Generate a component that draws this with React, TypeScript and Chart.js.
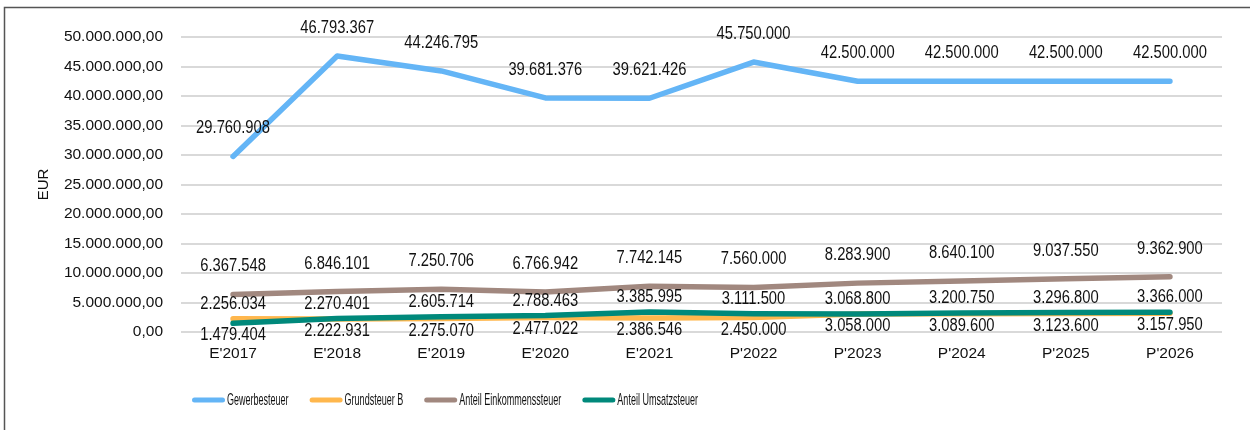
import React, { useEffect, useRef } from "react";
import { Chart, registerables } from "chart.js";

Chart.register(...registerables);

const categories = ["E'2017", "E'2018", "E'2019", "E'2020", "E'2021", "P'2022", "P'2023", "P'2024", "P'2025", "P'2026"];
const gewerbesteuer = [29760908, 46793367, 44246795, 39681376, 39621426, 45750000, 42500000, 42500000, 42500000, 42500000];
const grundsteuerB = [2256034, 2222931, 2275070, 2477022, 2386546, 2450000, 3058000, 3089600, 3123600, 3157950];
const anteilEinkommen = [6367548, 6846101, 7250706, 6766942, 7742145, 7560000, 8283900, 8640100, 9037550, 9362900];
const anteilUmsatz = [1479404, 2270401, 2605714, 2788463, 3385995, 3111500, 3068800, 3200750, 3296800, 3366000];
const seriesNames = ["Gewerbesteuer", "Grundsteuer B", "Anteil Einkommenssteuer", "Anteil Umsatzsteuer"];
const seriesColors = ["#64B5F6", "#FFB74D", "#A1887F", "#00897B"];

const FONT = "'Liberation Sans', Arial, sans-serif";

function groupThousands(n: number): string {
  const s = Math.round(Math.abs(n)).toString();
  return (n < 0 ? "-" : "") + s.replace(/\B(?=(\d{3})+(?!\d))/g, ".");
}
function fmtAxis(n: number): string {
  return groupThousands(n) + ",00";
}

const labelsPlugin = {
  id: "valueLabels",
  afterDatasetsDraw(chart: any) {
    const ctx = chart.ctx;
    ctx.save();
    ctx.font = `18px ${FONT}`;
    ctx.fillStyle = "#111";
    ctx.textAlign = "center";
    ctx.textBaseline = "middle";
    const sx = 0.82;
    const ds = chart.data.datasets;
    for (let d = 0; d < ds.length; d++) {
      const meta = chart.getDatasetMeta(d);
      meta.data.forEach((pt: any, i: number) => {
        const v = ds[d].data[i];
        let off = -28;
        if (d === 1 || d === 3) {
          const other = d === 1 ? ds[3].data[i] : ds[1].data[i];
          off = v >= other ? -15 : 12;
        }
        ctx.save();
        ctx.translate(pt.x, pt.y + off);
        ctx.scale(sx, 1);
        ctx.fillText(groupThousands(v), 0, 0);
        ctx.restore();
      });
    }
    ctx.restore();
  },
};

const frameLegendPlugin = {
  id: "frameLegend",
  afterDraw(chart: any) {
    const ctx = chart.ctx;
    ctx.save();
    ctx.strokeStyle = "#555";
    ctx.lineWidth = 1.5;
    ctx.beginPath();
    ctx.moveTo(4.5, 430);
    ctx.lineTo(4.5, 7.5);
    ctx.lineTo(1250, 7.5);
    ctx.stroke();
    const y = 400;
    let x = 192;
    ctx.font = `17px ${FONT}`;
    ctx.textBaseline = "middle";
    ctx.textAlign = "left";
    const sx = 0.53;
    chart.data.datasets.forEach((ds: any) => {
      ctx.strokeStyle = ds.borderColor;
      ctx.lineWidth = 5;
      ctx.lineCap = "round";
      ctx.beginPath();
      ctx.moveTo(x + 2.5, y);
      ctx.lineTo(x + 30.5, y);
      ctx.stroke();
      const tx = x + 35;
      const w = ctx.measureText(ds.label).width * sx;
      ctx.save();
      ctx.translate(tx, y);
      ctx.scale(sx, 1);
      ctx.fillStyle = "#111";
      ctx.fillText(ds.label, 0, 0);
      ctx.restore();
      x = tx + w + 21;
    });
    ctx.restore();
  },
};

export default function App() {
  const ref = useRef<HTMLCanvasElement | null>(null);
  useEffect(() => {
    document.body.style.margin = "0";
    if (!ref.current) return;
    const mk = (i: number, data: number[], order: number) => ({
      label: seriesNames[i],
      data,
      borderColor: seriesColors[i],
      backgroundColor: seriesColors[i],
      borderWidth: 5.5,
      pointRadius: 0,
      tension: 0,
      borderCapStyle: "round" as const,
      borderJoinStyle: "round" as const,
      order,
    });
    const chart = new Chart(ref.current, {
      type: "line",
      data: {
        labels: categories,
        datasets: [
          mk(0, gewerbesteuer, 0),
          mk(1, grundsteuerB, 2),
          mk(2, anteilEinkommen, 1),
          mk(3, anteilUmsatz, 1),
        ],
      },
      options: {
        responsive: false,
        animation: false,
        layout: { padding: { left: 0, right: 28, top: 37, bottom: 60 } },
        plugins: { legend: { display: false }, tooltip: { enabled: false } },
        scales: {
          x: {
            offset: true,
            grid: { display: false, drawTicks: false, offset: true },
            border: { display: false },
            ticks: { color: "#111", font: { family: FONT, size: 15.5 }, padding: 12, maxRotation: 0 },
            afterFit: (s: any) => { s.height = 38; },
          },
          y: {
            min: 0,
            max: 50000000,
            grid: { color: "#d9d9d9", lineWidth: 2, drawTicks: false },
            border: { display: false },
            ticks: {
              stepSize: 5000000,
              color: "#111",
              font: { family: FONT, size: 15.5 },
              padding: 18,
              callback: (v: any) => fmtAxis(Number(v)),
            },
            title: { display: true, text: "EUR", color: "#111", font: { family: FONT, size: 15 }, padding: { top: 35, bottom: 0 } },
            afterFit: (s: any) => { s.width = 181; },
          },
        },
      },
      plugins: [labelsPlugin, frameLegendPlugin],
    });
    return () => chart.destroy();
  }, []);
  return (
    <div style={{ position: "fixed", left: 0, top: 0, width: 1250, height: 430, background: "#fff" }}>
      <canvas ref={ref} width={1250} height={430} />
    </div>
  );
}
